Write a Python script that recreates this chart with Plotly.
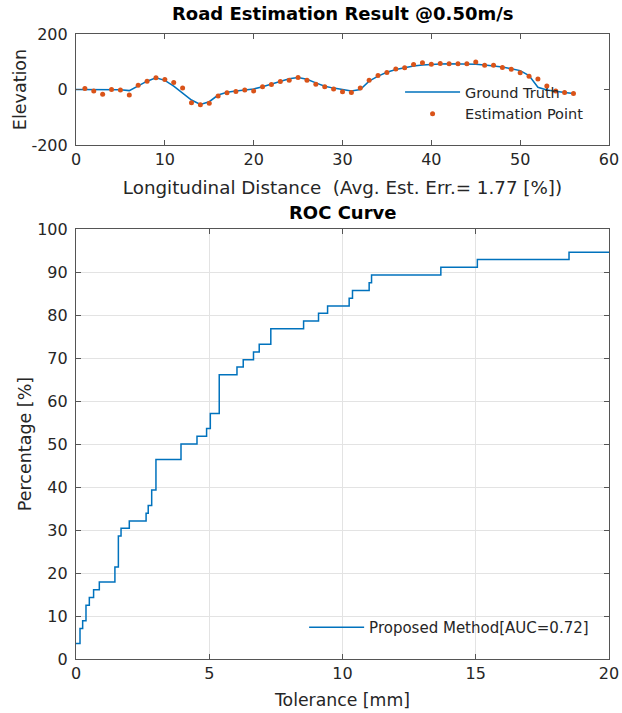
import plotly.graph_objects as go

# ---------------- data ----------------
gt_distance = list(range(0, 57))
gt_elevation = [0, 0, -1, -1, -1, -1, -4, 12, 30, 42, 33, 12, -14, -38, -54, -44, -20,
                -10, -5, -2, 2, 10, 19, 29, 39, 43, 37, 24, 12, 5, 0, -5, 0, 30, 48, 62,
                72, 79, 85, 88, 91, 92, 93, 93, 92, 91, 88, 85, 81, 75, 68, 50, 8, -2,
                -7, -11, -14]

est_distance = list(range(1, 57))
est_elevation = [4, -5, -17, 0, -2, -20, 15, 30, 42, 36, 25, 5, -48, -55, -50, -23, -12,
                 -7, -2, -5, 10, 18, 29, 33, 43, 33, 19, 10, 2, -8, -11, 5, 33, 50, 61,
                 74, 78, 90, 96, 91, 94, 93, 93, 93, 99, 87, 87, 79, 73, 60, 48, 38, 13,
                 -5, -11, -14]

roc_tolerance = [0, 0.15, 0.25, 0.375, 0.5, 0.66, 0.875, 1.46, 1.59, 1.69, 2.0, 2.63,
                 2.71, 2.84, 3.0, 3.94, 4.54, 4.9, 5.04, 5.375, 6.04, 6.275, 6.66, 6.875,
                 7.31, 8.54, 9.1, 9.44, 10.25, 10.375, 11.0, 11.09, 13.69, 15.06, 18.5, 20]
roc_percentage = [3.6, 7.1, 8.9, 12.5, 14.3, 16.1, 17.9, 21.4, 28.6, 30.4, 32.1, 33.9,
                  35.7, 39.3, 46.4, 50.0, 51.8, 53.6, 57.1, 66.1, 67.9, 69.6, 71.4, 73.2,
                  76.8, 78.6, 80.4, 82.1, 83.9, 85.7, 87.5, 89.3, 91.1, 92.9, 94.6, 94.6]

top_x_ticks = [0, 10, 20, 30, 40, 50, 60]
top_y_ticks = [-200, 0, 200]
top_y_ticktext = ["-200", "0", "200"]
roc_x_ticks = [0, 5, 10, 15, 20]
roc_y_ticks = [0, 10, 20, 30, 40, 50, 60, 70, 80, 90, 100]

# ---------------- style ----------------
FONT = "DejaVu Sans"
BLUE = "#0072BD"
ORANGE = "#D95319"
AXIS = "#555555"
TXT = "#262626"

fig = go.Figure()

fig.add_trace(go.Scatter(x=gt_distance, y=gt_elevation, mode="lines",
                         line=dict(color=BLUE, width=1.5), name="Ground Truth",
                         xaxis="x", yaxis="y", legend="legend"))
fig.add_trace(go.Scatter(x=est_distance, y=est_elevation, mode="markers",
                         marker=dict(color=ORANGE, size=5), name="Estimation Point",
                         xaxis="x", yaxis="y", legend="legend"))
fig.add_trace(go.Scatter(x=roc_tolerance, y=roc_percentage, mode="lines",
                         line=dict(color=BLUE, width=1.5, shape="hv"),
                         name="Proposed Method[AUC=0.72]",
                         xaxis="x2", yaxis="y2", legend="legend2"))

common = dict(showline=True, linecolor=AXIS, linewidth=1.2, mirror="ticks",
              ticks="inside", ticklen=5, tickcolor=AXIS, zeroline=False,
              automargin=False,
              tickfont=dict(family=FONT, size=16, color=TXT))

fig.update_layout(
    width=622, height=713,
    margin=dict(l=76, r=13, t=34, b=54, autoexpand=False),
    paper_bgcolor="white", plot_bgcolor="white",
    font=dict(family=FONT, color=TXT),
    xaxis=dict(domain=[0, 1], range=[0, 60], tickvals=top_x_ticks, anchor="y",
               showgrid=False,
               title=dict(text="Longitudinal Distance  (Avg. Est. Err.= 1.77 [%])",
                          font=dict(family=FONT, size=18.3, color=TXT), standoff=12),
               **common),
    yaxis=dict(domain=[0.8224, 1], range=[-200, 200], tickvals=top_y_ticks,
               ticktext=top_y_ticktext, anchor="x", showgrid=False,
               ticklabelstandoff=4,
               title=dict(text="Elevation", font=dict(family=FONT, size=17.5, color=TXT),
                          standoff=0),
               **common),
    xaxis2=dict(domain=[0, 1], range=[0, 20], tickvals=roc_x_ticks, anchor="y2",
                showgrid=True, gridcolor="#e3e3e3", gridwidth=1,
                title=dict(text="Tolerance [mm]", font=dict(family=FONT, size=17.3, color=TXT),
                           standoff=11),
                **common),
    yaxis2=dict(domain=[0, 0.688], range=[0, 100], tickvals=roc_y_ticks, anchor="x2",
                showgrid=True, gridcolor="#e3e3e3", gridwidth=1,
                ticklabelstandoff=4,
                title=dict(text="Percentage [%]", font=dict(family=FONT, size=17.5, color=TXT),
                           standoff=1),
                **common),
    legend=dict(x=0.608, y=0.9328, xanchor="left", yanchor="top",
                bgcolor="rgba(0,0,0,0)", borderwidth=0, itemwidth=55,
                font=dict(family=FONT, size=14.5, color=TXT), tracegroupgap=0),
    legend2=dict(x=0.428, y=0.0768, xanchor="left", yanchor="top",
                 bgcolor="rgba(0,0,0,0)", borderwidth=0, itemwidth=55,
                 font=dict(family=FONT, size=15, color=TXT)),
    annotations=[
        dict(text="<b>Road Estimation Result @0.50m/s</b>", x=0.5, y=1.032,
             xref="paper", yref="paper", xanchor="center", yanchor="middle",
             showarrow=False, font=dict(family=FONT, size=18, color="black")),
        dict(text="<b>ROC Curve</b>", x=0.5, y=0.7152,
             xref="paper", yref="paper", xanchor="center", yanchor="middle",
             showarrow=False, font=dict(family=FONT, size=18, color="black")),
    ],
)

fig.write_html("out.html", config={"displayModeBar": False},
               post_script="document.body.style.margin='0px';")
